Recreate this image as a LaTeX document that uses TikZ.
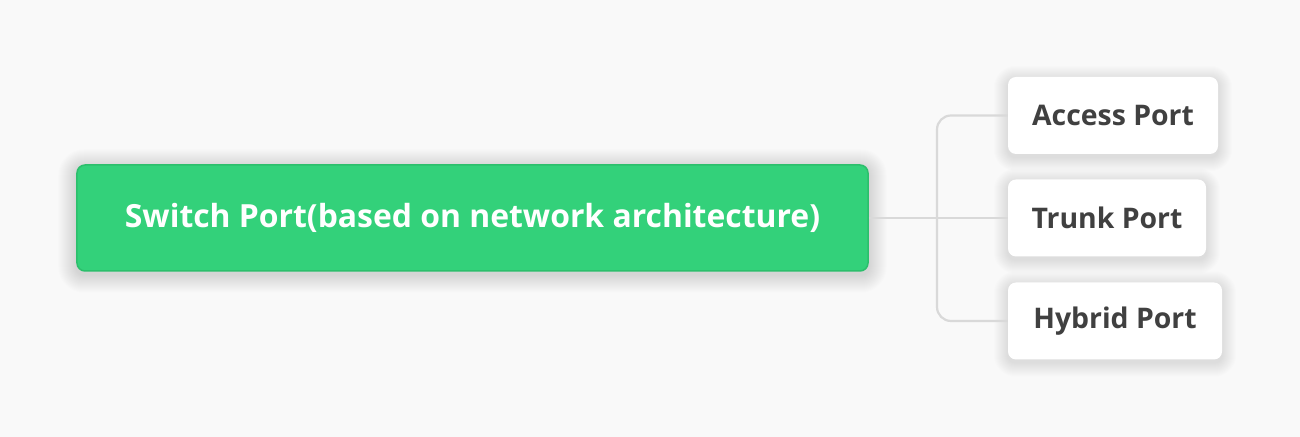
\documentclass[tikz,border=0pt]{standalone}
\usepackage{fontspec}
\setmainfont{Open Sans}
\definecolor{bg}{HTML}{F9F9F9}
\definecolor{rootfill}{HTML}{33D17A}
\definecolor{rootdraw}{HTML}{2CBF6C}
\definecolor{conncol}{HTML}{D9D9D9}
\definecolor{childtxt}{HTML}{404040}
\pgfdeclarelayer{bglayer}
\pgfdeclarelayer{shadowlayer}
\pgfsetlayers{bglayer,shadowlayer,main}
\newcommand{\softshadow}[3]{% node, steps, opacity
  \begin{pgfonlayer}{shadowlayer}
  \foreach \i in {1,...,#2} {
    \fill[black, opacity=#3, rounded corners=8bp+\i bp]
      ([shift={(-\i bp,-\i bp-3bp)}]#1.south west) rectangle ([shift={(\i bp,\i bp-3bp)}]#1.north east);
  }
  \end{pgfonlayer}}
\begin{document}
\begin{tikzpicture}[x=1bp,y=1bp,
  rootbox/.style={draw=rootdraw, line width=1.5bp, fill=rootfill, rounded corners=8bp,
    minimum width=791bp, minimum height=106bp, inner sep=0pt, text=white,
    font=\fontsize{32}{36}\selectfont\bfseries},
  childbox/.style={draw=none, fill=white, rounded corners=8bp, minimum height=77bp,
    inner sep=0pt, text=childtxt, font=\fontsize{28.5}{32}\selectfont\bfseries},
  conn/.style={draw=conncol, line width=2.2bp}]
\begin{pgfonlayer}{bglayer}
\fill[bg] (0,0) rectangle (1300,437);
\end{pgfonlayer}
\useasboundingbox (0,0) rectangle (1300,437);
\node[rootbox] (root) at (472.5,219) {Switch Port(based on network architecture)};
\node[childbox, minimum width=210bp] (access) at (1113,321.5) {Access Port};
\node[childbox, minimum width=198bp] (trunk) at (1107,219) {Trunk Port};
\node[childbox, minimum width=214bp] (hybrid) at (1115,116) {Hybrid Port};
\softshadow{root}{18}{0.009}
\softshadow{access}{14}{0.006}
\softshadow{trunk}{14}{0.006}
\softshadow{hybrid}{14}{0.006}
\coordinate (jx) at (937,219);
\draw[conn] (root.east) -- (trunk.west);
\draw[conn, rounded corners=14bp] (access.west) -| (jx) |- (hybrid.west);
\end{tikzpicture}
\end{document}
